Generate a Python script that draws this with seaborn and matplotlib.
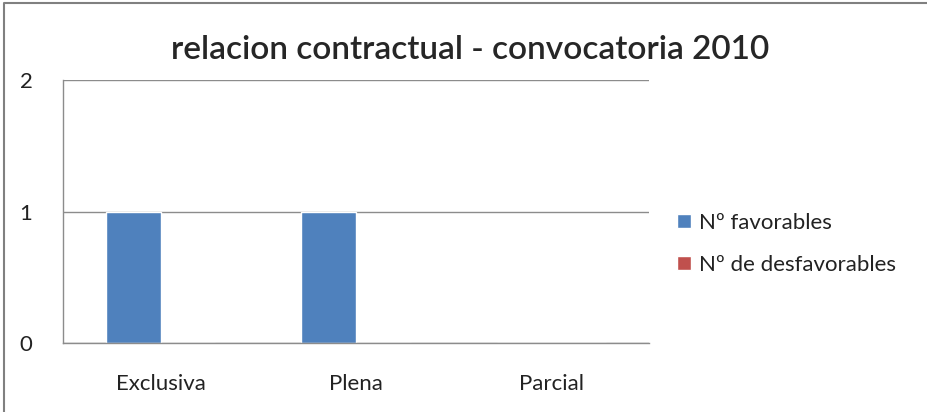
import pandas as pd
import matplotlib
matplotlib.use('Agg')
import matplotlib.pyplot as plt
import seaborn as sns
from matplotlib.lines import Line2D

# data
categories = ['Exclusiva', 'Plena', 'Parcial']
favorables = [1, 1, 0]
desfavorables = [0, 0, 0]
series_names = ['Nº favorables', 'Nº de desfavorables']
y_ticks = [0, 1, 2]

df = pd.DataFrame({
    'categoria': categories * 2,
    'valor': favorables + desfavorables,
    'serie': [series_names[0]] * 3 + [series_names[1]] * 3,
})

sns.set_style('white')
plt.rcParams['font.family'] = ['Lato', 'DejaVu Sans']

fig = plt.figure(figsize=(9.27, 4.12), dpi=100)
ax = fig.add_axes([0.068, 0.1675, 0.632, 0.6383])

sns.barplot(data=df, x='categoria', y='valor', hue='serie',
            palette=['#4F81BD', '#C0504D'], width=0.56, ax=ax,
            saturation=1, errorbar=None, legend=True)

ax.set_ylim(0, 2)
ax.set_yticks(y_ticks)
ax.set_xlim(-0.5, 2.5)
ax.yaxis.grid(True, color='#8C8C8C', linewidth=1)
ax.set_axisbelow(True)
ax.set_xlabel('')
ax.set_ylabel('')
for s in ['top', 'right']:
    ax.spines[s].set_visible(False)
for s in ['left', 'bottom']:
    ax.spines[s].set_color('#8C8C8C')
    ax.spines[s].set_linewidth(1)
ax.tick_params(axis='y', length=0, pad=22, labelsize=16, labelcolor='#222222')
ax.tick_params(axis='x', length=0, pad=22, labelsize=16, labelcolor='#222222')

handles, labels = ax.get_legend_handles_labels()
ax.get_legend().remove()
fig.legend(handles, labels, loc='center left', bbox_to_anchor=(0.709, 0.408),
           frameon=False, fontsize=16, handlelength=0.6, handleheight=0.6,
           handletextpad=0.4, labelspacing=1.0, labelcolor='#222222')

fig.text(0.507, 0.878, 'relacion contractual - convocatoria 2010',
         ha='center', va='center', fontsize=24, fontweight='semibold')

# chart border, only the left and top edges show in the crop
fig.add_artist(Line2D([0.004, 0.004, 1.0], [0.0, 0.992, 0.992],
                      transform=fig.transFigure, color='#808080', linewidth=1.5))

fig.savefig('out.png', dpi=100)
